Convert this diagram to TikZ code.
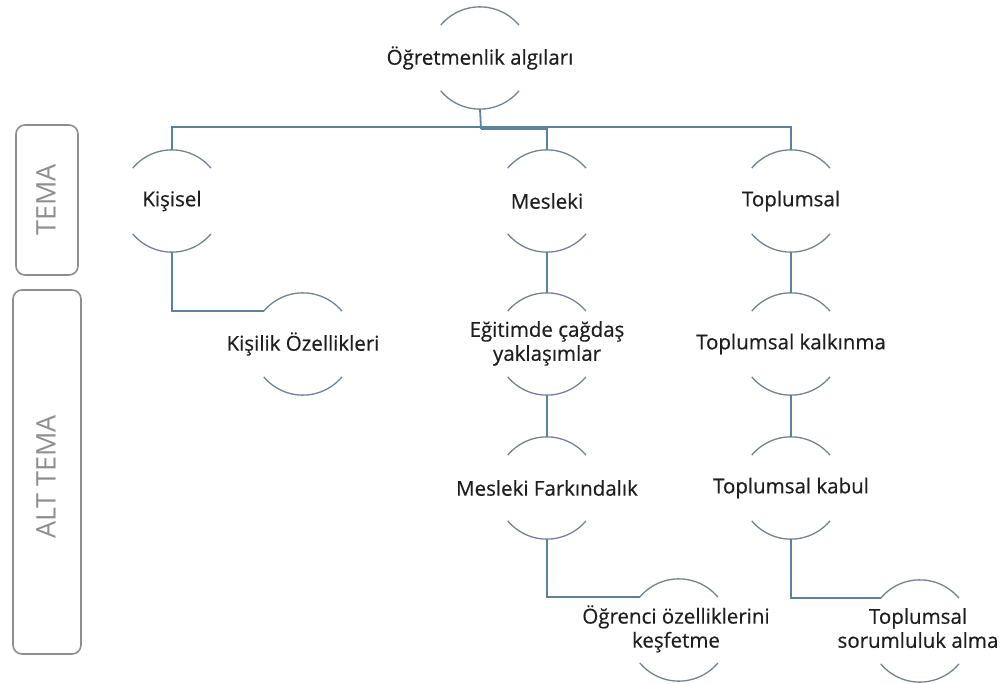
\documentclass[tikz,border=0pt]{standalone}
\usepackage{fontspec}
\setmainfont{Open Sans}[FakeBold=0.5]
\newfontfamily\sidefont{Open Sans}
\definecolor{conncol}{HTML}{5E80A0}
\definecolor{arccol}{HTML}{6F8296}
\definecolor{boxcol}{HTML}{8E8E8E}
\definecolor{txtcol}{HTML}{1E1E1E}
\newcommand{\twol}[3][0pt]{\makebox[0pt]{\hspace*{#1}\begin{tabular}{@{}c@{}}#2\\#3\end{tabular}}}
\tikzset{
  cn/.style={circle, minimum size=102pt, inner sep=0pt, text=txtcol,
    font=\fontsize{20.5}{24}\selectfont},
  conn/.style={draw=conncol, line width=1.8pt},
  arcline/.style={draw=arccol, line width=1.3pt},
  sidebox/.style={draw=boxcol, line width=1.6pt, rounded corners=9pt},
  sidetext/.style={text=boxcol, font=\sidefont\fontsize{27}{30}\selectfont, rotate=90}
}
\newcommand{\halo}[1]{%
  \draw[arcline] (#1.140) arc[start angle=140, end angle=40, radius=51pt];
  \draw[arcline] (#1.220) arc[start angle=220, end angle=320, radius=51pt];}
\begin{document}
\begin{tikzpicture}[x=1pt,y=-1pt]
\useasboundingbox (0,0) rectangle (1003,684);
% side boxes
\draw[sidebox] (16,125) rectangle (78,275);
\node[sidetext] (tema) at (46,200) {TEMA};
\draw[sidebox] (13,290) rectangle (81,654);
\node[sidetext] (alttema) at (46,477) {ALT TEMA};
% nodes
\node[cn] (a) at (480,58) {\makebox[0pt]{Öğretmenlik algıları}};
\node[cn] (k) at (172,201) {\makebox[0pt]{Kişisel}};
\node[cn] (m) at (547,201) {\makebox[0pt]{Mesleki}};
\node[cn] (t) at (791,201) {\makebox[0pt]{Toplumsal}};
\node[cn] (ko) at (303,344) {\makebox[0pt]{Kişilik Özellikleri}};
\node[cn] (e) at (547,344) {\twol{Eğitimde çağdaş}{yaklaşımlar}};
\node[cn] (mf) at (547,488) {\makebox[0pt]{Mesleki Farkındalık}};
\node[cn] (o) at (679,630) {\twol[-6pt]{Öğrenci özelliklerini}{keşfetme}};
\node[cn] (tk) at (791,344) {\makebox[0pt]{Toplumsal kalkınma}};
\node[cn] (tb) at (791,488) {\makebox[0pt]{Toplumsal kabul}};
\node[cn] (ts) at (920,631) {\twol[-4pt]{Toplumsal}{sorumluluk alma}};
\foreach \n in {a,k,m,t,ko,e,mf,o,tk,tb,ts}{\halo{\n}}
% connectors
\coordinate (bar) at (481,127);
\coordinate (bar2) at (481,129);
\draw[conn] (a.south) -- (bar2);
\draw[conn] (k.north) |- (bar) -| (t.north);
\draw[conn] (bar2) -| (m.north);
\draw[conn] (k.south) |- (ko.140);
\draw[conn] (m.south) -- (e.north);
\draw[conn] (e.south) -- (mf.north);
\draw[conn] (mf.south) |- (o.140);
\draw[conn] (t.south) -- (tk.north);
\draw[conn] (tk.south) -- (tb.north);
\draw[conn] (tb.south) |- (ts.140);
\end{tikzpicture}
\end{document}
